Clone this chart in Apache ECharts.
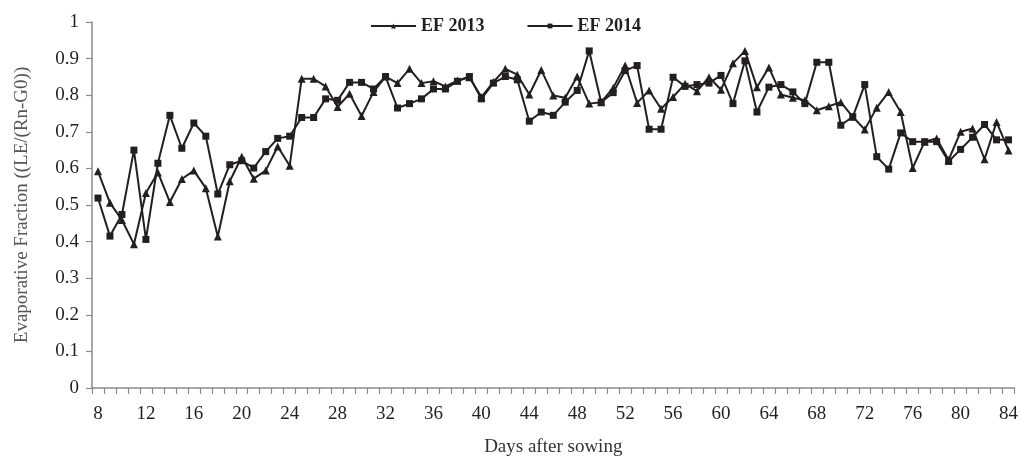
<!DOCTYPE html>
<html>
<head>
<meta charset="utf-8">
<script src="https://cdn.jsdelivr.net/npm/echarts@6/dist/echarts.min.js"></script>
<style>
  html, body { margin: 0; padding: 0; background: #fff; }
  #chart { width: 1021px; height: 462px; }
</style>
</head>
<body>
<div id="chart"></div>
<script>
// Days after sowing (one category per day)
const days = [];
for (let d = 8; d <= 84; d++) days.push(String(d));

// Evaporative fraction, 2013 season (days 8..84)
const ef2013 = [
  0.592, 0.506, 0.459, 0.393, 0.533, 0.589, 0.508, 0.571, 0.594, 0.546,
  0.414, 0.565, 0.632, 0.572, 0.594, 0.660, 0.607, 0.845, 0.845, 0.824,
  0.768, 0.804, 0.743, 0.809, 0.851, 0.833, 0.872, 0.833, 0.838, 0.824,
  0.840, 0.849, 0.795, 0.836, 0.872, 0.856, 0.802, 0.869, 0.799, 0.793,
  0.851, 0.777, 0.781, 0.820, 0.881, 0.779, 0.813, 0.763, 0.795, 0.831,
  0.811, 0.849, 0.815, 0.887, 0.921, 0.822, 0.876, 0.802, 0.793, 0.786,
  0.759, 0.770, 0.781, 0.741, 0.706, 0.766, 0.809, 0.754, 0.601, 0.673,
  0.682, 0.623, 0.700, 0.709, 0.625, 0.727, 0.649
];

// Evaporative fraction, 2014 season (days 8..84)
const ef2014 = [
  0.519, 0.415, 0.474, 0.650, 0.406, 0.614, 0.745, 0.655, 0.724, 0.688,
  0.530, 0.610, 0.621, 0.601, 0.646, 0.682, 0.688, 0.739, 0.739, 0.790,
  0.786, 0.835, 0.835, 0.817, 0.851, 0.765, 0.777, 0.790, 0.817, 0.817,
  0.838, 0.851, 0.790, 0.833, 0.851, 0.842, 0.729, 0.754, 0.745, 0.781,
  0.813, 0.921, 0.781, 0.807, 0.867, 0.881, 0.707, 0.707, 0.849, 0.824,
  0.829, 0.833, 0.854, 0.777, 0.894, 0.754, 0.822, 0.829, 0.809, 0.777,
  0.890, 0.890, 0.718, 0.741, 0.829, 0.632, 0.598, 0.697, 0.673, 0.673,
  0.673, 0.619, 0.652, 0.685, 0.720, 0.678, 0.678
];

const serif = '"Liberation Serif", "DejaVu Serif", "Times New Roman", serif';
const ink = '#231f20';
const axisGrey = '#8a8a8a';

const chart = echarts.init(document.getElementById('chart'), null, { renderer: 'canvas' });

chart.setOption({
  animation: false,
  backgroundColor: '#ffffff',
  textStyle: { fontFamily: serif },
  grid: { left: 92, right: 3, top: 22, bottom: 72, containLabel: false },
  legend: {
    top: 12,
    left: 365,
    itemWidth: 45,
    itemHeight: 6,
    itemGap: 42,
    textStyle: { fontFamily: serif, fontWeight: 'bold', fontSize: 18, color: ink, padding: [0, 0, 0, 0] },
    data: ['EF 2013', 'EF 2014']
  },
  xAxis: {
    type: 'category',
    data: days,
    boundaryGap: true,
    name: 'Days after sowing',
    nameLocation: 'middle',
    nameGap: 50,
    nameTextStyle: { fontFamily: serif, fontSize: 19, color: '#333' },
    axisLine: { lineStyle: { color: axisGrey, width: 1.5 } },
    axisTick: { show: true, interval: 0, length: 6, lineStyle: { color: axisGrey, width: 1.2 } },
    axisLabel: { interval: 3, margin: 17, fontFamily: serif, fontSize: 19, color: ink },
    splitLine: { show: false }
  },
  yAxis: {
    type: 'value',
    min: 0,
    max: 1,
    interval: 0.1,
    name: 'Evaporative Fraction ((LE/(Rn-G0))',
    nameLocation: 'middle',
    nameGap: 60,
    nameRotate: 90,
    nameTextStyle: { fontFamily: serif, fontSize: 19, color: '#555' },
    axisLine: { show: true, lineStyle: { color: axisGrey, width: 1.5 } },
    axisTick: { show: true, length: 6, lineStyle: { color: axisGrey, width: 1.2 } },
    axisLabel: { margin: 13, fontFamily: serif, fontSize: 19, color: ink },
    splitLine: { show: false }
  },
  series: [
    {
      name: 'EF 2013',
      type: 'line',
      data: ef2013,
      symbol: 'triangle',
      symbolSize: 8,
      showAllSymbol: true,
      lineStyle: { color: ink, width: 2 },
      itemStyle: { color: ink, borderWidth: 0 }
    },
    {
      name: 'EF 2014',
      type: 'line',
      data: ef2014,
      symbol: 'rect',
      symbolSize: 7,
      showAllSymbol: true,
      lineStyle: { color: ink, width: 2 },
      itemStyle: { color: ink, borderWidth: 0 }
    }
  ]
});
</script>
</body>
</html>
